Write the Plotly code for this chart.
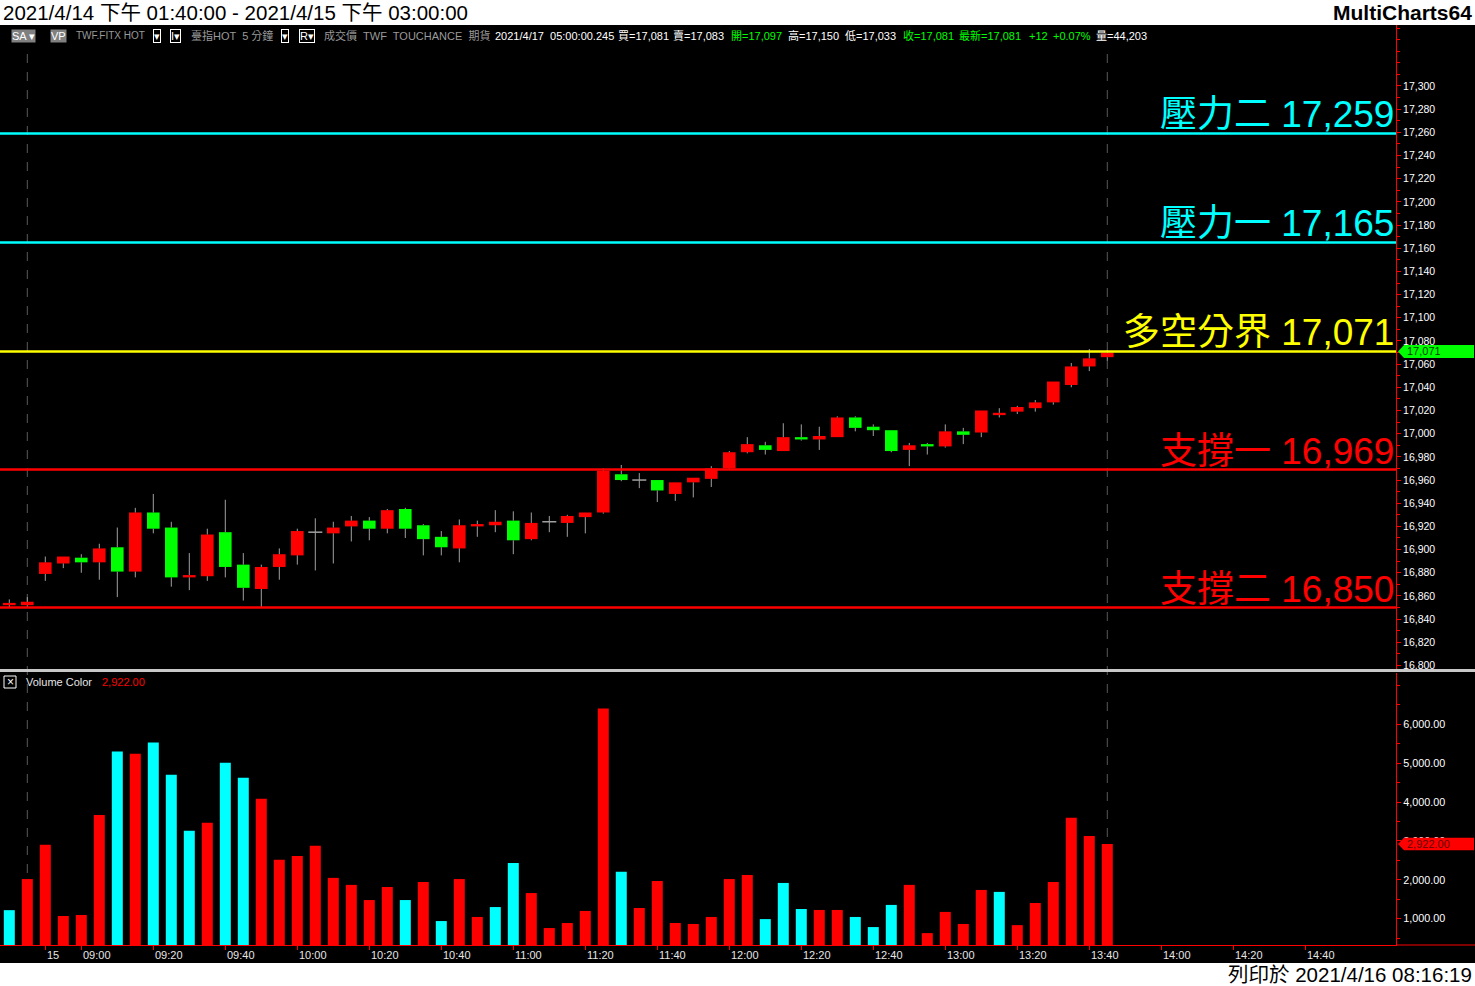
import plotly.graph_objects as go

# ---------------- data ----------------
bar_index = list(range(62))
opens = [16852, 16852, 16879, 16888, 16893, 16889, 16902, 16881, 16932, 16919,
         16876, 16877, 16915, 16887, 16866, 16885, 16895, 16915, 16914, 16920,
         16925, 16918, 16935, 16921, 16911, 16901, 16920, 16921, 16925, 16909,
         16924, 16923, 16928, 16932, 16965, 16960, 16960, 16948, 16958, 16961,
         16970, 16984, 16990, 16985, 16997, 16995, 16997, 17014, 17006, 17003,
         16986, 16991, 16989, 17002, 17001, 17016, 17019, 17022, 17027, 17042,
         17058, 17066]
highs = [16857, 16859, 16894, 16894, 16896, 16905, 16919, 16936, 16948, 16924,
         16897, 16918, 16943, 16897, 16887, 16901, 16918, 16927, 16924, 16929,
         16928, 16935, 16936, 16922, 16916, 16926, 16925, 16934, 16933, 16932,
         16929, 16930, 16932, 16970, 16973, 16966, 16960, 16958, 16962, 16972,
         16985, 16997, 16993, 17009, 17008, 17006, 17015, 17015, 17008, 17003,
         16992, 16992, 17008, 17005, 17020, 17022, 17024, 17029, 17045, 17061,
         17073, 17072]
lows = [16850, 16850, 16873, 16884, 16880, 16874, 16859, 16876, 16914, 16868,
        16865, 16873, 16876, 16856, 16850, 16874, 16887, 16882, 16888, 16907,
        16908, 16914, 16910, 16895, 16895, 16889, 16911, 16915, 16896, 16908,
        16915, 16911, 16914, 16931, 16959, 16953, 16941, 16942, 16945, 16954,
        16969, 16983, 16982, 16985, 16994, 16986, 16997, 17002, 16998, 16984,
        16972, 16982, 16988, 16991, 16997, 17014, 17017, 17019, 17025, 17040,
        17054, 17063]
closes = [16854, 16855, 16889, 16894, 16889, 16901, 16881, 16932, 16918, 16876,
          16878, 16913, 16885, 16867, 16885, 16896, 16916, 16915, 16919, 16925,
          16918, 16934, 16918, 16909, 16902, 16921, 16922, 16924, 16908, 16923,
          16924, 16929, 16932, 16968, 16960, 16960, 16951, 16958, 16962, 16970,
          16984, 16991, 16986, 16997, 16995, 16998, 17014, 17005, 17003, 16985,
          16990, 16989, 17002, 16999, 17020, 17018, 17023, 17027, 17045, 17058,
          17065, 17070]
volumes = [1220, 2020, 2900, 1070, 1095, 3670, 5300, 5245, 5530, 4700,
           3265, 3470, 5010, 4625, 4085, 2515, 2615, 2875, 2050, 1870,
           1480, 1815, 1480, 1945, 940, 2020, 1045, 1300, 2435, 1660,
           760, 890, 1200, 6405, 2205, 1275, 1970, 890, 865, 1045,
           2020, 2125, 990, 1920, 1250, 1225, 1225, 1045, 785, 1355,
           1870, 630, 1175, 865, 1740, 1690, 835, 1405, 1945, 3595,
           3130, 2922]
volume_dir = list("crrrrrcrcccrccrrrrrrrrcrcrrccrr" "rrrcrrrrrrrcccrrcccrrrrrcrrrrrr")

level_names = ["壓力二", "壓力一", "多空分界", "支撐一", "支撐二"]
level_values = [17259, 17165, 17071, 16969, 16850]
level_colors = ["#00FFFF", "#00FFFF", "#FFFF00", "#FF0000", "#FF0000"]

time_tick_index = [2, 4, 8, 12, 16, 20, 24, 28, 32, 36, 40, 44, 48, 52, 56, 60, 64, 68, 72]
time_tick_labels = ["15", "09:00", "09:20", "09:40", "10:00", "10:20", "10:40", "11:00",
                    "11:20", "11:40", "12:00", "12:20", "12:40", "13:00", "13:20", "13:40",
                    "14:00", "14:20", "14:40"]
price_ticks = list(range(16800, 17301, 20))
volume_ticks = [1000, 2000, 3000, 4000, 5000, 6000]
session_break_index = [1, 61]
last_volume = 2922

# ---------------- geometry ----------------
W, H = 1475, 986
PL, PR, PT, PB = 0, 1396, 25, 945
PW, PH = PR - PL, PB - PT


def px_x(px):
    return (px - PL) / PW


def px_y(py):
    return (PB - py) / PH


FONT = "Liberation Sans, Arial, Noto Sans CJK TC, sans-serif"
UP, DOWN, WICK = "#FF0000", "#00FF00", "#A0A0A0"

fig = go.Figure()

# wicks
wx, wy, dx, dy = [], [], [], []
for i, o, h, l, c in zip(bar_index, opens, highs, lows, closes):
    top, bot = max(o, c), min(o, c)
    if h > top:
        wx += [i, i, None]
        wy += [h, top, None]
    if l < bot:
        wx += [i, i, None]
        wy += [bot, l, None]
    if o == c:
        dx += [i - 0.39, i + 0.39, None]
        dy += [o, o, None]
fig.add_trace(go.Scatter(x=wx, y=wy, mode="lines", line=dict(color=WICK, width=1),
                         xaxis="x", yaxis="y", hoverinfo="skip"))
fig.add_trace(go.Scatter(x=dx, y=dy, mode="lines", line=dict(color=WICK, width=1.5),
                         xaxis="x", yaxis="y", hoverinfo="skip"))

# bodies
bx, bbase, bh, bcol = [], [], [], []
for i, o, c in zip(bar_index, opens, closes):
    if o == c:
        continue
    bx.append(i)
    bbase.append(min(o, c))
    bh.append(abs(c - o))
    bcol.append(UP if c > o else DOWN)
fig.add_trace(go.Bar(x=bx, y=bh, base=bbase, width=0.7, marker=dict(color=bcol, line=dict(width=0)),
                     xaxis="x", yaxis="y", hoverinfo="skip"))

# volume
vcol = ["#00FFFF" if d == "c" else "#FF0000" for d in volume_dir]
fig.add_trace(go.Bar(x=bar_index, y=volumes, width=0.61, marker=dict(color=vcol, line=dict(width=0)),
                     xaxis="x", yaxis="y2", hoverinfo="skip"))

shapes = []
annotations = []

# black chart background
shapes.append(dict(type="rect", xref="paper", yref="paper", x0=0, x1=px_x(W), y0=px_y(963), y1=px_y(25),
                   fillcolor="black", line=dict(width=0), layer="below"))
# session break dashed lines
for b in session_break_index:
    shapes.append(dict(type="line", xref="x", yref="paper", x0=b, x1=b, y0=0, y1=px_y(45),
                       line=dict(color="#5A5A5A", width=1, dash="dash"), layer="below"))
# level lines + labels
for name, val, col in zip(level_names, level_values, level_colors):
    shapes.append(dict(type="line", xref="paper", yref="y", x0=0, x1=1, y0=val, y1=val,
                       line=dict(color=col, width=2.5), layer="above"))
    annotations.append(dict(xref="paper", yref="y", x=1, y=val, xanchor="right", yanchor="bottom",
                            yshift=-4, showarrow=False, text=f"{name} {val:,}",
                            font=dict(family=FONT, size=37, color=col)))

# pane separator and bottom axis extension
shapes.append(dict(type="line", xref="paper", yref="paper", x0=0, x1=px_x(W), y0=px_y(670.5), y1=px_y(670.5),
                   line=dict(color="#C8C8C8", width=3), layer="above"))
shapes.append(dict(type="line", xref="paper", yref="paper", x0=1, x1=px_x(W), y0=0, y1=0,
                   line=dict(color="#FF0000", width=1), layer="above"))

# axis markers (arrow boxes)
k_price = 1.159  # px per point
k_vol = 1 / 25.72  # px per volume unit
hp = 6.5 / k_price
hv = 6.2 / k_vol
xt, xb, xr = px_x(1398), px_x(1404), px_x(1474)
v = level_values[2]
shapes.append(dict(type="path", xref="paper", yref="y",
                   path=f"M {xt},{v} L {xb},{v + hp} L {xr},{v + hp} L {xr},{v - hp} L {xb},{v - hp} Z",
                   fillcolor="#00FF00", line=dict(width=0), layer="above"))
annotations.append(dict(xref="paper", yref="y", x=px_x(1405), y=v, xanchor="left", yanchor="middle",
                        showarrow=False, text=f"{v:,}", font=dict(family=FONT, size=11, color="#004000")))
shapes.append(dict(type="path", xref="paper", yref="y2",
                   path=f"M {xt},{last_volume} L {xb},{last_volume + hv} L {xr},{last_volume + hv} "
                        f"L {xr},{last_volume - hv} L {xb},{last_volume - hv} Z",
                   fillcolor="#FF0000", line=dict(width=0), layer="above"))
annotations.append(dict(xref="paper", yref="y2", x=px_x(1405), y=last_volume, xanchor="left", yanchor="middle",
                        showarrow=False, text=f"{last_volume:,.2f}",
                        font=dict(family=FONT, size=11, color="#600000")))

# time labels
for idx, lab in zip(time_tick_index, time_tick_labels):
    annotations.append(dict(xref="x", yref="paper", x=idx, y=px_y(955), xanchor="left", yanchor="middle",
                            xshift=0, showarrow=False, text=lab,
                            font=dict(family=FONT, size=11, color="#E6E6E6")))

# header / footer
annotations.append(dict(xref="paper", yref="paper", x=px_x(1), y=px_y(12.5), xanchor="left", yanchor="middle",
                        showarrow=False, text="2021/4/14 下午 01:40:00 - 2021/4/15 下午 03:00:00",
                        font=dict(family=FONT, size=20.5, color="black")))
annotations.append(dict(xref="paper", yref="paper", x=px_x(1474), y=px_y(12.5), xanchor="right", yanchor="middle",
                        showarrow=False, text="<b>MultiCharts64</b>",
                        font=dict(family=FONT, size=21, color="black")))
annotations.append(dict(xref="paper", yref="paper", x=px_x(1474), y=px_y(975), xanchor="right", yanchor="middle",
                        showarrow=False, text="列印於 2021/4/16 08:16:19",
                        font=dict(family=FONT, size=20.5, color="black")))

# info line
info_items = [
    (11, "SA ▾", "white", "#808080", None, 11),
    (50, "VP", "white", "#808080", None, 11),
    (75, "TWF.FITX HOT", "#9A9A9A", None, None, 10),
    (153, "▾", "white", None, "white", 11),
    (170, "I▾", "white", None, "white", 11),
    (190, "臺指HOT  5 分鐘", "#9A9A9A", None, None, 11),
    (281, "▾", "white", None, "white", 11),
    (299, "R▾", "white", None, "white", 11),
    (323, "成交價  TWF  TOUCHANCE  期貨", "#9A9A9A", None, None, 11),
    (494, "2021/4/17  05:00:00.245", "white", None, None, 11),
    (617, "買=17,081", "white", None, None, 11),
    (672, "賣=17,083", "white", None, None, 11),
    (730, "開=17,097", "#00FF00", None, None, 11),
    (787, "高=17,150", "white", None, None, 11),
    (844, "低=17,033", "white", None, None, 11),
    (902, "收=17,081", "#00FF00", None, None, 11),
    (958, "最新=17,081", "#00FF00", None, None, 11),
    (1028, "+12", "#00FF00", None, None, 11),
    (1052, "+0.07%", "#00FF00", None, None, 11),
    (1095, "量=44,203", "white", None, None, 11),
]
for xpx, txt, col, bg, bd, fs in info_items:
    a = dict(xref="paper", yref="paper", x=px_x(xpx), y=px_y(36), xanchor="left", yanchor="middle",
             showarrow=False, text=txt, font=dict(family=FONT, size=fs, color=col), borderpad=0)
    if bg:
        a["bgcolor"] = bg
    if bd:
        a["bordercolor"] = bd
        a["borderwidth"] = 1
    annotations.append(a)

# volume pane header
shapes.append(dict(type="rect", xref="paper", yref="paper", x0=px_x(4), x1=px_x(16), y0=px_y(688), y1=px_y(676),
                   line=dict(color="white", width=1), fillcolor="black", layer="above"))
annotations.append(dict(xref="paper", yref="paper", x=px_x(10), y=px_y(682), xanchor="center", yanchor="middle",
                        showarrow=False, text="×", font=dict(family=FONT, size=12, color="white")))
annotations.append(dict(xref="paper", yref="paper", x=px_x(24), y=px_y(682), xanchor="left", yanchor="middle",
                        showarrow=False, text="Volume Color", font=dict(family=FONT, size=11, color="#E6E6E6")))
annotations.append(dict(xref="paper", yref="paper", x=px_x(100), y=px_y(682), xanchor="left", yanchor="middle",
                        showarrow=False, text=f"{last_volume:,.2f}", font=dict(family=FONT, size=11, color="#FF0000")))

axis_common = dict(showgrid=False, zeroline=False, showline=True, linecolor="#FF0000", linewidth=1,
                   ticks="outside", ticklen=4, tickcolor="#FF0000", tickwidth=1)

fig.update_layout(
    width=W, height=H,
    margin=dict(l=PL, r=W - PR, t=PT, b=H - PB, pad=0),
    paper_bgcolor="white", plot_bgcolor="black",
    showlegend=False, barmode="overlay", hovermode=False,
    xaxis=dict(domain=[0, 1], range=[-0.517, 77.04], anchor="y2", tickmode="array",
               tickvals=time_tick_index, showticklabels=False, **axis_common),
    yaxis=dict(domain=[px_y(670), 1], range=[16796.1, 17352.6], side="right", anchor="x",
               tickmode="array", tickvals=price_ticks, tickformat=",d",
               tickfont=dict(family=FONT, size=10.5, color="white"),
               minor=dict(tick0=16800, dtick=10, ticks="outside", ticklen=3, tickcolor="#FF0000", showgrid=False),
               **axis_common),
    yaxis2=dict(domain=[0, px_y(673)], range=[324, 7319], side="right", anchor="x",
                tickmode="array", tickvals=volume_ticks, tickformat=",.2f",
                tickfont=dict(family=FONT, size=10.8, color="white"),
                minor=dict(tick0=0, dtick=500, ticks="outside", ticklen=3, tickcolor="#FF0000", showgrid=False),
                **axis_common),
    shapes=shapes,
    annotations=annotations,
)

fig.write_html("out.html", config={"displayModeBar": False},
               post_script="document.body.style.margin='0';document.body.style.overflow='hidden';")
